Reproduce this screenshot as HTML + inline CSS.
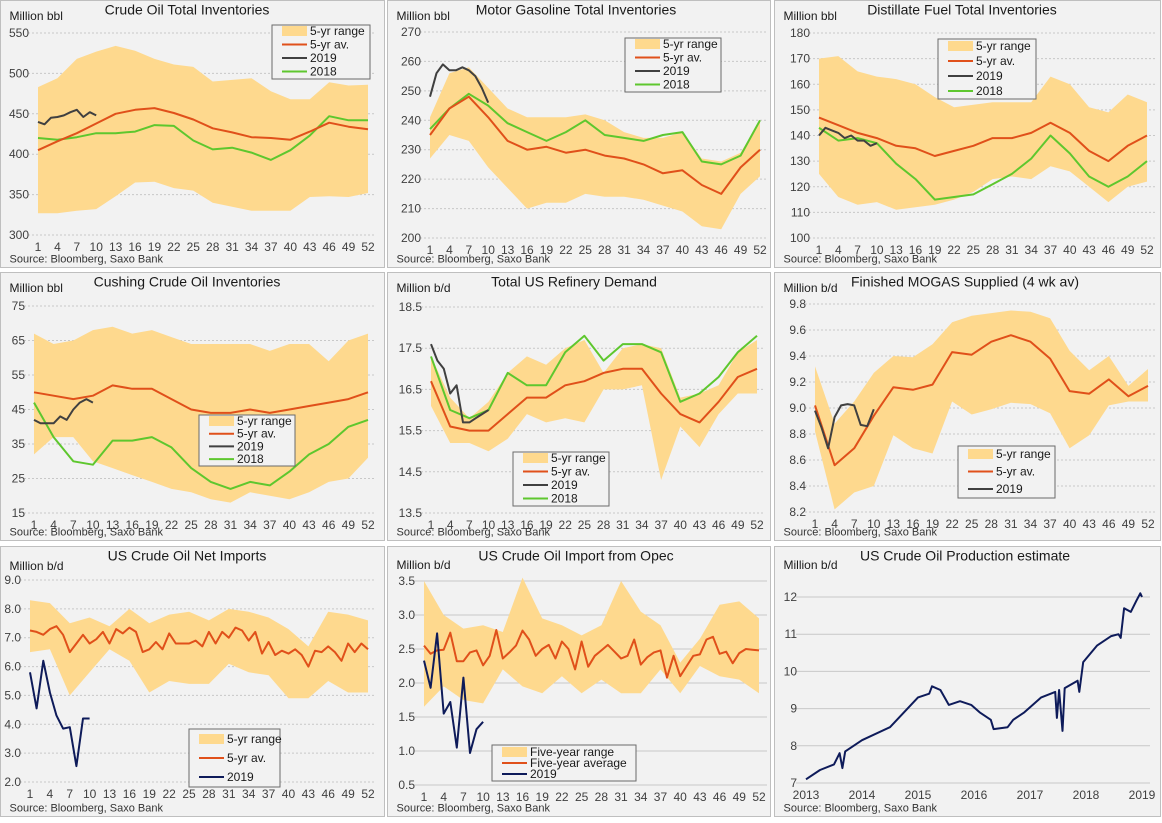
<!DOCTYPE html>
<html><head><meta charset="utf-8">
<style>
body{margin:0;background:#fff;width:1162px;height:818px;overflow:hidden;font-family:"Liberation Sans","DejaVu Sans",sans-serif;}
svg text{font-family:"Liberation Sans","DejaVu Sans",sans-serif;}
</style></head>
<body>
<svg id="c" width="1162" height="818" viewBox="0 0 1162 818" xmlns="http://www.w3.org/2000/svg"></svg>
<script>
// ---------- data ----------
const weeksStep3 = [1,4,7,10,13,16,19,22,25,28,31,34,37,40,43,46,49,52];
const weeks2019 = [1,2,3,4,5,6,7,8,9,10];
const weeksAll = Array.from({length:52},(_, i)=>i+1);
const weekTickLabels = [1,4,7,10,13,16,19,22,25,28,31,34,37,40,43,46,49,52];

const crudeHi  = [483,494,518,527,534,528,518,511,508,490,492,494,478,468,468,489,485,486];
const crudeLo  = [327,327,330,332,348,365,366,358,355,340,335,330,330,330,347,348,347,352];
const crudeAvg = [405,416,426,438,450,455,457,451,443,432,427,421,420,418,428,439,434,431];
const crude2018= [420,418,421,426,426,428,436,435,417,406,408,402,393,405,423,447,442,442];
const crude2019= [440,437,445,446,448,452,455,446,452,448];

const gasHi  = [241,256,258,251,244,241,241,241,242,240,236,234,234,236,227,226,229,240];
const gasLo  = [227,235,233,224,217,210,212,212,215,214,214,213,211,209,204,203,215,221];
const gasAvg = [235,244,248,241,233,230,231,229,230,228,227,225,222,223,218,215,224,230];
const gas2018= [237,244,249,245,239,236,233,236,240,235,234,233,235,236,226,225,228,240];
const gas2019= [248,256,259,257,257,258,257,255,251,246];

const distHi  = [170,171,165,163,162,160,155,151,152,153,153,153,163,160,151,149,156,153];
const distLo  = [125,116,113,114,111,112,113,115,118,123,124,123,128,126,120,114,120,122];
const distAvg = [147,144,141,139,136,135,132,134,136,139,139,141,145,141,134,130,136,140];
const dist2018= [143,138,139,137,129,123,115,116,117,121,125,131,140,133,124,120,124,130];
const dist2019= [140,143,142,141,139,140,138,138,136,137];

const cushHi  = [67,64,65,68,69,67,68,66,64,64,64,64,62,64,64,59,65,67];
const cushLo  = [32,37,37,30,28,26,24,22,21,19,18,21,20,19,21,24,25,31];
const cushAvg = [50,49,48,49,52,51,51,48,45,44,44,45,44,45,46,47,48,50];
const cush2018= [47,37,30,29,36,36,37,34,28,24,22,24,23,27,32,35,40,42];
const cush2019= [42,41,41,41,43,42,45,47,48,47];

const refHi  = [17.3,16.3,15.8,16.2,16.9,17.3,17.1,17.5,17.7,16.9,17.5,17.6,17.5,16.3,16.4,16.6,17.4,17.7];
const refLo  = [16.1,15.2,15.2,15.0,15.3,15.9,15.7,15.8,15.7,16.5,16.5,16.6,14.3,15.6,15.1,15.9,16.4,16.4];
const refAvg = [16.7,15.6,15.5,15.5,15.9,16.3,16.3,16.6,16.7,16.9,17.0,17.0,16.4,15.9,15.7,16.2,16.8,17.0];
const ref2018= [17.3,16.0,15.8,16.0,16.9,16.6,16.6,17.4,17.8,17.2,17.6,17.6,17.4,16.2,16.4,16.8,17.4,17.8];
const ref2019= [17.6,17.2,17.0,16.4,16.6,15.7,15.7,15.8,15.9,16.0];

const mogHi  = [9.32,8.88,9.05,9.27,9.40,9.39,9.49,9.66,9.71,9.73,9.75,9.74,9.69,9.44,9.29,9.40,9.17,9.30];
const mogLo  = [8.82,8.22,8.35,8.40,8.79,8.69,8.65,9.05,8.95,8.99,9.04,9.03,8.96,8.69,8.79,9.02,9.05,9.05];
const mogAvg = [9.02,8.56,8.69,8.94,9.16,9.14,9.18,9.43,9.41,9.51,9.56,9.51,9.38,9.13,9.11,9.22,9.09,9.17];
const mog2019= [8.98,8.85,8.69,8.93,9.02,9.03,9.02,8.87,8.86,8.99];

const impHi  = [8.3,8.2,7.5,7.7,7.4,8.0,7.5,7.8,7.9,7.6,8.0,7.9,7.7,7.3,6.7,7.9,7.8,7.6];
const impLo  = [6.5,6.6,5.0,5.8,6.6,6.2,5.1,5.5,5.4,5.4,6.1,5.8,5.7,4.9,4.9,5.5,5.1,5.1];
const impAvg = [7.25,7.2,7.1,7.3,7.4,7.1,6.5,6.8,7.1,6.8,6.95,7.2,6.8,7.3,7.15,7.35,7.2,6.5,6.6,6.85,6.6,7.15,6.8,6.8,6.8,6.9,6.7,7.2,6.8,7.2,7.0,7.35,7.25,6.9,7.2,6.45,6.85,6.4,6.55,6.45,6.6,6.4,6.0,6.55,6.5,6.7,6.5,6.2,6.8,6.5,6.8,6.6];
const imp2019= [5.8,4.55,6.2,5.1,4.3,3.85,3.9,2.55,4.2,4.2];

const opecHi  = [3.5,3.0,2.8,2.85,2.75,3.55,2.95,2.85,2.7,2.85,3.5,3.05,2.85,2.3,2.65,3.15,3.2,2.95];
const opecLo  = [1.65,1.95,1.75,1.7,2.2,1.95,1.85,2.1,1.85,2.05,1.85,1.85,2.2,1.85,2.25,2.1,2.05,1.85];
const opecAvg = [2.55,2.43,2.48,2.49,2.74,2.32,2.32,2.45,2.48,2.26,2.4,2.78,2.36,2.45,2.55,2.77,2.64,2.4,2.5,2.56,2.36,2.61,2.5,2.2,2.61,2.24,2.4,2.48,2.56,2.46,2.36,2.4,2.64,2.27,2.38,2.45,2.48,2.08,2.4,2.1,2.25,2.4,2.42,2.64,2.68,2.43,2.46,2.29,2.44,2.5,2.49,2.48];
const opec2019= [2.33,1.93,2.73,1.55,1.72,1.05,2.08,0.97,1.32,1.43];

const prodYears = [2013.0,2013.25,2013.5,2013.6,2013.65,2013.7,2014.0,2014.5,2014.75,2015.0,2015.2,2015.25,2015.4,2015.55,2015.75,2015.95,2016.1,2016.3,2016.35,2016.6,2016.7,2016.9,2017.2,2017.45,2017.48,2017.52,2017.58,2017.62,2017.85,2017.88,2017.95,2018.2,2018.45,2018.58,2018.62,2018.68,2018.8,2018.9,2018.97,2019.0];
const prodValues= [7.1,7.35,7.5,7.8,7.4,7.85,8.15,8.5,8.9,9.3,9.4,9.6,9.5,9.1,9.2,9.1,8.9,8.7,8.45,8.5,8.7,8.9,9.3,9.45,8.75,9.5,8.4,9.55,9.75,9.45,10.25,10.7,10.95,11.0,10.9,11.7,11.6,11.9,12.1,12.0];
const yearTicks = [2013,2014,2015,2016,2017,2018,2019];

// ---------- drawing ----------
const NS="http://www.w3.org/2000/svg";
const svg=document.getElementById('c');
const BAND='#fed98e', AVG='#e0501a', Y19='#404040', Y18='#5ec72e', NAVY='#0e1b5a';
function el(tag,attrs,parent){const e=document.createElementNS(NS,tag);for(const k in attrs)e.setAttribute(k,attrs[k]);(parent||svg).appendChild(e);return e;}
function txt(s,attrs,parent){const t=el('text',attrs,parent);t.textContent=s;return t;}

function panel(p){
  const g=el('g',{});
  
  
  const bg=el('rect',{x:p.bx,y:p.by,width:p.bw,height:p.bh,fill:'#f2f2f2',stroke:'#bfbfbf','stroke-width':1},g);
  
  
  const X=v=>p.x0+(v-p.dmin)/(p.dmax-p.dmin)*(p.x1-p.x0);
  const Y=v=>p.yB+(v-p.vmin)/(p.vmax-p.vmin)*(p.yT-p.yB);
  for(let v=p.vmin; v<=p.vmax+1e-9; v+=p.vstep){
    const vv=Math.round(v*100)/100;
    const ln=el('line',{x1:p.x0-10,x2:p.x1+8,y1:Y(vv),y2:Y(vv),stroke:'#c8c8c8','stroke-width':1,'stroke-dasharray':p.solid?'':'2,2'},g);
    
    
    const t=txt(vv.toFixed(p.dec),{x:p.x0-9,y:Y(vv)+4,'text-anchor':'end','font-size':12,fill:'#404040'},g);
    
    
  }
  p.xticks.forEach(w=>{
    const t=txt(String(w),{x:X(w),y:p.yB+16,'text-anchor':'middle','font-size':12,fill:'#404040'},g);
    
    
  });
  if(p.hi){
    let d='';
    p.bandX.forEach((w,i)=>{d+=(i?'L':'M')+X(w).toFixed(1)+','+Y(p.hi[i]).toFixed(1);});
    for(let i=p.bandX.length-1;i>=0;i--) d+='L'+X(p.bandX[i]).toFixed(1)+','+Y(p.lo[i]).toFixed(1);
    const b=el('path',{d:d+'Z',fill:BAND},g);
    
    
  }
  p.lines.forEach(l=>{
    const d=l.xs.map((w,i)=>(i?'L':'M')+X(w).toFixed(1)+','+Y(l.ys[i]).toFixed(1)).join('');
    const pa=el('path',{d:d,fill:'none',stroke:l.c,'stroke-width':2,'stroke-linejoin':'round'},g);
    
    
  });
  const ti=txt(p.title,{x:p.tx,y:p.by+14,'text-anchor':'middle','font-size':14,fill:'#1a1a1a'},g);
  
  
  const un=txt(p.unit,{x:p.bx+9,y:p.uy,'font-size':12,fill:'#1a1a1a'},g);
  
  
  const so=txt('Source: Bloomberg, Saxo Bank',{x:p.bx+9,y:p.by+p.bh-5,'font-size':11,fill:'#333'},g);
  
  
  if(p.leg){
    const L=p.leg;
    const lg=el('g',{},g);
    
    
    el('rect',{x:L.x,y:L.y,width:L.w,height:L.h,fill:'#f2f2f2',stroke:'#6b6b6b','stroke-width':1},lg);
    L.items.forEach((it,i)=>{
      const cy=L.y+L.pad+i*L.gap;
      if(it.band){const s=el('rect',{x:L.x+10,y:cy-5,width:25,height:10,fill:BAND},lg);}
      else{const s=el('line',{x1:L.x+10,x2:L.x+35,y1:cy,y2:cy,stroke:it.c,'stroke-width':2},lg);}
      const t=txt(it.t,{x:L.x+38,y:cy+4,'font-size':12,fill:'#1a1a1a'},lg);
      
      
    });
  }
}
const std=(extra)=>[{t:'5-yr range',band:1},{t:'5-yr av.',c:AVG}].concat(extra);

panel({name:'crude-oil-inventories-chart',bx:0.5,by:0.5,bw:384,bh:267,x0:38,x1:368,dmin:1,dmax:52,yT:33,yB:235,vmin:300,vmax:550,vstep:50,dec:0,
 xticks:weekTickLabels,bandX:weeksStep3,hi:crudeHi,lo:crudeLo,title:'Crude Oil Total Inventories',tx:187,unit:'Million bbl',uy:20,
 lines:[{xs:weeksStep3,ys:crude2018,c:Y18,name:'line-2018'},{xs:weeksStep3,ys:crudeAvg,c:AVG,name:'line-5yr-avg'},{xs:weeks2019,ys:crude2019,c:Y19,name:'line-2019'}],
 leg:{x:272,y:25,w:98,h:54,pad:6,gap:13.5,items:std([{t:'2019',c:Y19},{t:'2018',c:Y18}])}});
panel({name:'gasoline-inventories-chart',bx:387.5,by:0.5,bw:383,bh:267,x0:430,x1:760,dmin:1,dmax:52,yT:32,yB:238,vmin:200,vmax:270,vstep:10,dec:0,
 xticks:weekTickLabels,bandX:weeksStep3,hi:gasHi,lo:gasLo,title:'Motor Gasoline Total Inventories',tx:576,unit:'Million bbl',uy:20,
 lines:[{xs:weeksStep3,ys:gas2018,c:Y18,name:'line-2018'},{xs:weeksStep3,ys:gasAvg,c:AVG,name:'line-5yr-avg'},{xs:weeks2019,ys:gas2019,c:Y19,name:'line-2019'}],
 leg:{x:625,y:38,w:96,h:54,pad:6,gap:13.5,items:std([{t:'2019',c:Y19},{t:'2018',c:Y18}])}});
panel({name:'distillate-inventories-chart',bx:774.5,by:0.5,bw:386,bh:267,x0:819,x1:1147,dmin:1,dmax:52,yT:33,yB:238,vmin:100,vmax:180,vstep:10,dec:0,
 xticks:weekTickLabels,bandX:weeksStep3,hi:distHi,lo:distLo,title:'Distillate Fuel Total Inventories',tx:962,unit:'Million bbl',uy:20,
 lines:[{xs:weeksStep3,ys:dist2018,c:Y18,name:'line-2018'},{xs:weeksStep3,ys:distAvg,c:AVG,name:'line-5yr-avg'},{xs:weeks2019,ys:dist2019,c:Y19,name:'line-2019'}],
 leg:{x:938,y:39,w:98,h:60,pad:7,gap:15,items:std([{t:'2019',c:Y19},{t:'2018',c:Y18}])}});

panel({name:'cushing-inventories-chart',bx:0.5,by:272.5,bw:384,bh:268,x0:34,x1:368,dmin:1,dmax:52,yT:306,yB:513,vmin:15,vmax:75,vstep:10,dec:0,
 xticks:weekTickLabels,bandX:weeksStep3,hi:cushHi,lo:cushLo,title:'Cushing Crude Oil Inventories',tx:187,unit:'Million bbl',uy:292,
 lines:[{xs:weeksStep3,ys:cush2018,c:Y18,name:'line-2018'},{xs:weeksStep3,ys:cushAvg,c:AVG,name:'line-5yr-avg'},{xs:weeks2019,ys:cush2019,c:Y19,name:'line-2019'}],
 leg:{x:199,y:415,w:96,h:51,pad:6,gap:12.7,items:std([{t:'2019',c:Y19},{t:'2018',c:Y18}])}});
panel({name:'refinery-demand-chart',bx:387.5,by:272.5,bw:383,bh:268,x0:431,x1:757,dmin:1,dmax:52,yT:307,yB:513,vmin:13.5,vmax:18.5,vstep:1,dec:1,
 xticks:weekTickLabels,bandX:weeksStep3,hi:refHi,lo:refLo,title:'Total US Refinery Demand',tx:574,unit:'Million b/d',uy:292,
 lines:[{xs:weeksStep3,ys:ref2018,c:Y18,name:'line-2018'},{xs:weeksStep3,ys:refAvg,c:AVG,name:'line-5yr-avg'},{xs:weeks2019,ys:ref2019,c:Y19,name:'line-2019'}],
 leg:{x:513,y:452,w:96,h:54,pad:6,gap:13.5,items:std([{t:'2019',c:Y19},{t:'2018',c:Y18}])}});
panel({name:'mogas-supplied-chart',bx:774.5,by:272.5,bw:386,bh:268,x0:815,x1:1148,dmin:1,dmax:52,yT:304,yB:512,vmin:8.2,vmax:9.8,vstep:0.2,dec:1,
 xticks:weekTickLabels,bandX:weeksStep3,hi:mogHi,lo:mogLo,title:'Finished MOGAS Supplied  (4 wk av)',tx:965,unit:'Million b/d',uy:292,
 lines:[{xs:weeksStep3,ys:mogAvg,c:AVG,name:'line-5yr-avg'},{xs:weeks2019,ys:mog2019,c:Y19,name:'line-2019'}],
 leg:{x:958,y:446,w:97,h:52,pad:8,gap:17.5,items:std([{t:'2019',c:Y19}])}});

panel({name:'net-imports-chart',bx:0.5,by:546.5,bw:384,bh:270,x0:30,x1:368,dmin:1,dmax:52,yT:580,yB:782,vmin:2,vmax:9,vstep:1,dec:1,
 xticks:weekTickLabels,bandX:weeksStep3,hi:impHi,lo:impLo,title:'US Crude Oil Net Imports',tx:187,unit:'Million b/d',uy:570,solid:false,
 lines:[{xs:weeksAll,ys:impAvg,c:AVG,name:'line-5yr-avg'},{xs:weeks2019,ys:imp2019,c:NAVY,name:'line-2019'}],
 leg:{x:189,y:729,w:91,h:58,pad:10,gap:19,items:std([{t:'2019',c:NAVY}])}});
panel({name:'opec-imports-chart',bx:387.5,by:546.5,bw:383,bh:270,x0:424,x1:759,dmin:1,dmax:52,yT:581,yB:785,vmin:0.5,vmax:3.5,vstep:0.5,dec:1,solid:true,
 xticks:weekTickLabels,bandX:weeksStep3,hi:opecHi,lo:opecLo,title:'US Crude Oil Import from Opec',tx:576,unit:'Million b/d',uy:569,
 lines:[{xs:weeksAll,ys:opecAvg,c:AVG,name:'line-5yr-avg'},{xs:weeks2019,ys:opec2019,c:NAVY,name:'line-2019'}],
 leg:{x:492,y:745,w:144,h:36,pad:7,gap:11,items:[{t:'Five-year range',band:1},{t:'Five-year average',c:AVG},{t:'2019',c:NAVY}]}});
panel({name:'crude-production-chart',bx:774.5,by:546.5,bw:386,bh:270,x0:806,x1:1142,dmin:2013,dmax:2019,yT:597,yB:783,vmin:7,vmax:12,vstep:1,dec:0,solid:true,
 xticks:yearTicks,title:'US Crude Oil Production estimate',tx:965,unit:'Million b/d',uy:569,
 lines:[{xs:prodYears,ys:prodValues,c:NAVY,name:'production-line'}]});
</script>
</body></html>
